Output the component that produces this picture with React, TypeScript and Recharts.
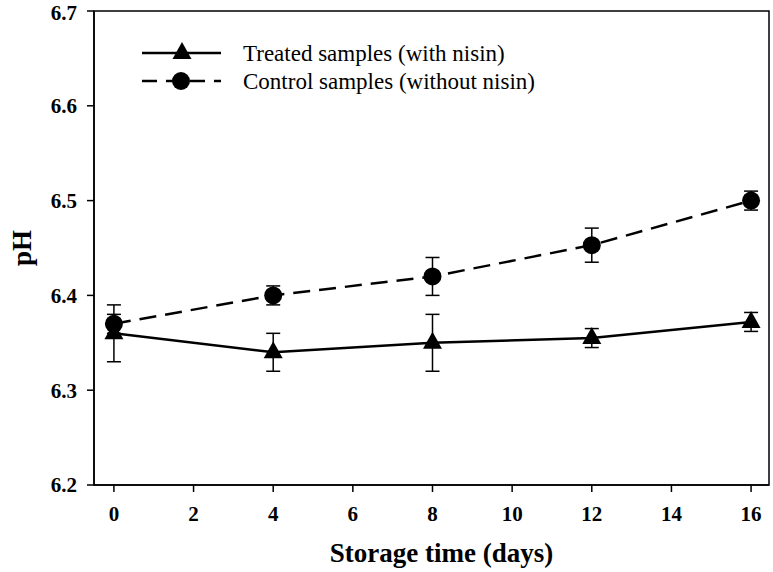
import { LineChart, Line, XAxis, YAxis, ErrorBar, ReferenceArea, Legend } from 'recharts';

// storage day, mean pH and SD
const days = [0, 4, 8, 12, 16];
const treatedPh = [6.36, 6.34, 6.35, 6.355, 6.372];
const treatedSd = [0.03, 0.02, 0.03, 0.01, 0.01];
const controlPh = [6.37, 6.4, 6.42, 6.453, 6.5];
const controlSd = [0.01, 0.01, 0.02, 0.018, 0.01];

const xTicks = [0, 2, 4, 6, 8, 10, 12, 14, 16];
const yTicks = [6.2, 6.3, 6.4, 6.5, 6.6, 6.7];

const seriesNames = ['Treated samples (with nisin)', 'Control samples (without nisin)'];

const data = days.map((d, i) => ({
  day: d,
  treated: treatedPh[i],
  treatedErr: treatedSd[i],
  control: controlPh[i],
  controlErr: controlSd[i],
}));

const FONT = '"Liberation Serif", "Times New Roman", serif';

const TriangleDot = (props: any) => {
  const { cx, cy, index } = props;
  if (cx == null || cy == null) return null;
  return (
    <polygon
      key={`tri-${index}`}
      points={`${cx},${cy - 11} ${cx - 9.5},${cy + 6} ${cx + 9.5},${cy + 6}`}
      fill="#000"
    />
  );
};

const CircleDot = (props: any) => {
  const { cx, cy, index } = props;
  if (cx == null || cy == null) return null;
  return <circle key={`dot-${index}`} cx={cx} cy={cy} r={9} fill="#000" />;
};

const LegendBox = () => (
  <svg width={600} height={110} style={{ display: 'block' }}>
    <line x1={142} y1={53} x2={221} y2={53} stroke="#000" strokeWidth={2.5} />
    <polygon points="182,42 172.5,59 191.5,59" fill="#000" />
    <text x={243} y={53} dy="0.35em" fontFamily={FONT} fontSize={23} fill="#000">
      {seriesNames[0]}
    </text>
    <line x1={142} y1={81} x2={221} y2={81} stroke="#000" strokeWidth={2.5} strokeDasharray="15 9" />
    <circle cx={181} cy={81} r={9} fill="#000" />
    <text x={243} y={81} dy="0.35em" fontFamily={FONT} fontSize={23} fill="#000">
      {seriesNames[1]}
    </text>
  </svg>
);

const YTitle = (props: any) => {
  const vb = props.viewBox || {};
  const cy = vb.y + vb.height / 2;
  return (
    <text
      x={22}
      y={cy}
      transform={`rotate(-90, 22, ${cy})`}
      textAnchor="middle"
      dominantBaseline="central"
      fontFamily={FONT}
      fontWeight="bold"
      fontSize={27}
      fill="#000"
    >
      pH
    </text>
  );
};

const XTitle = (props: any) => {
  const vb = props.viewBox || {};
  return (
    <text
      x={vb.x + vb.width / 2 + 10}
      y={562}
      textAnchor="middle"
      fontFamily={FONT}
      fontWeight="bold"
      fontSize={27}
      fill="#000"
    >
      Storage time (days)
    </text>
  );
};

const tickStyle = { fontFamily: FONT, fontWeight: 'bold', fontSize: 21, fill: '#000' };

export default function App() {
  return (
    <div style={{ position: 'absolute', left: 0, top: 0, background: '#fff' }}>
      <LineChart
        width={773}
        height={572}
        data={data}
        margin={{ top: 11, right: 4, bottom: 0, left: 0 }}
      >
        <XAxis
          dataKey="day"
          type="number"
          domain={[-0.5, 16.45]}
          ticks={xTicks}
          allowDataOverflow
          height={87}
          tickSize={7}
          tickMargin={14}
          tick={tickStyle}
          axisLine={{ stroke: '#000', strokeWidth: 1.5 }}
          tickLine={{ stroke: '#000', strokeWidth: 1.5 }}
          label={<XTitle />}
        />
        <YAxis
          type="number"
          domain={[6.2, 6.7]}
          ticks={yTicks}
          allowDataOverflow
          width={94}
          tickSize={7}
          tickMargin={10}
          tick={tickStyle}
          tickFormatter={(v: number) => v.toFixed(1)}
          axisLine={{ stroke: '#000', strokeWidth: 1.5 }}
          tickLine={{ stroke: '#000', strokeWidth: 1.5 }}
          label={<YTitle />}
        />
        <ReferenceArea
          x1={-0.5}
          x2={16.45}
          y1={6.2}
          y2={6.7}
          fill="none"
          stroke="#000"
          strokeWidth={1.5}
          ifOverflow="visible"
        />
        <Legend
          layout="horizontal"
          verticalAlign="middle"
          align="center"
          wrapperStyle={{ top: 0, left: 0, width: 'auto', height: 'auto' }}
          content={<LegendBox />}
        />
        <Line
          dataKey="treated"
          name={seriesNames[0]}
          type="linear"
          stroke="#000"
          strokeWidth={2.5}
          dot={<TriangleDot />}
          activeDot={false}
          isAnimationActive={false}
        >
          <ErrorBar dataKey="treatedErr" width={7} stroke="#000" strokeWidth={1.5} isAnimationActive={false} />
        </Line>
        <Line
          dataKey="control"
          name={seriesNames[1]}
          type="linear"
          stroke="#000"
          strokeWidth={2.5}
          strokeDasharray="17 9"
          dot={<CircleDot />}
          activeDot={false}
          isAnimationActive={false}
        >
          <ErrorBar dataKey="controlErr" width={7} stroke="#000" strokeWidth={1.5} isAnimationActive={false} />
        </Line>
      </LineChart>
    </div>
  );
}
